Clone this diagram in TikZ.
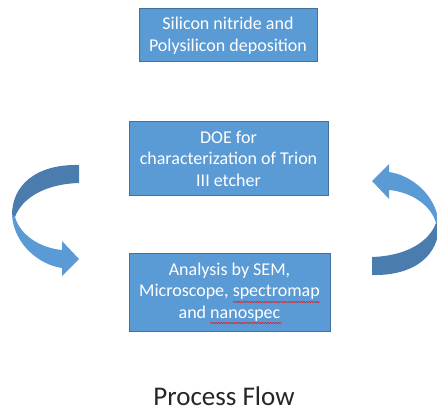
\documentclass[tikz,border=0pt]{standalone}
\usepackage{fontspec}
\setmainfont{Carlito}
\usetikzlibrary{decorations.pathmorphing}
\definecolor{boxfill}{HTML}{5B9BD5}
\definecolor{boxline}{HTML}{41719C}
\definecolor{arrdark}{HTML}{4A7DAE}
\definecolor{arrlight}{HTML}{5B9BD5}
\definecolor{wavered}{HTML}{E02020}
\definecolor{titlegray}{HTML}{262626}
\newcommand\cyclearrowshape{%
    \fill[arrdark] (79,165) .. controls (35,164) and (12,186) .. (12,215)
      -- (15,217) .. controls (22,198) and (45,184) .. (79,183) -- cycle;
    \fill[arrlight] (12,215) .. controls (14,245) and (40,265) .. (62,268)
      -- (62,276) -- (79,259) -- (62,241) -- (62,250)
      .. controls (40,248) and (20,235) .. (15,217) -- cycle;}
\tikzset{
  stepbox/.style={draw=boxline, line width=1pt, fill=boxfill, text=white,
    align=center, inner sep=0pt, font=\fontsize{18}{21.5}\selectfont},
  spellwave/.style={wavered, line width=0.6pt, decorate,
    decoration={snake, amplitude=0.7pt, segment length=2.6pt}}
}
\begin{document}
\begin{tikzpicture}[x=1pt,y=-1pt]
\useasboundingbox (0,0) rectangle (437,412);
\clip (0,0) rectangle (437,412);
\node[stepbox, minimum width=178pt, minimum height=53pt] (dep) at (228,35.5)
  {Silicon nitride and\\Polysilicon deposition};
\node[stepbox, minimum width=199pt, minimum height=73pt] (doe) at (228.5,158.5)
  {DOE for\\characterization of Trion\\III etcher};
\node[stepbox, minimum width=201pt, minimum height=78pt] (ana) at (229.5,292)
  {Analysis by SEM,\\Microscope, spectromap\\and nanospec};
\coordinate (specL) at ([shift={(3.5,10)}]ana.center);
\coordinate (specR) at ([shift={(90.5,10)}]ana.center);
\coordinate (nanoL) at ([shift={(-19.5,31)}]ana.center);
\coordinate (nanoR) at ([shift={(52,31)}]ana.center);
\draw[spellwave] (specL) -- (specR);
\draw[spellwave] (nanoL) -- (nanoR);
\begin{scope}
\cyclearrowshape
\end{scope}
\begin{scope}[rotate around={180:(225.5,220)}]
\cyclearrowshape
\end{scope}
\node[anchor=base, text=titlegray, font=\fontsize{27}{30}\selectfont, inner sep=0pt] (title) at (224,405) {Process Flow};
\end{tikzpicture}
\end{document}
